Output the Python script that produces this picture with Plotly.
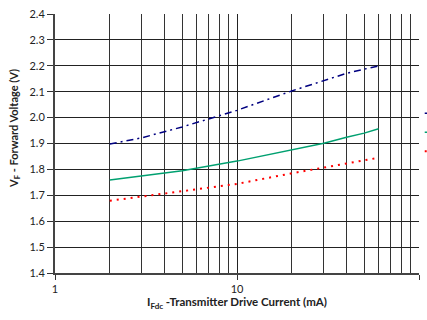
import plotly.graph_objects as go

current_ma = [2, 3, 5, 10, 20, 30, 40, 50, 60]
vf_cold = [1.898, 1.922, 1.964, 2.028, 2.103, 2.143, 2.171, 2.187, 2.199]
vf_room = [1.759, 1.774, 1.795, 1.832, 1.875, 1.901, 1.924, 1.940, 1.957]
vf_hot = [1.679, 1.695, 1.714, 1.744, 1.785, 1.808, 1.824, 1.835, 1.845]
series_names = ["-40°C", "25°C", "85°C"]

y_ticks = [1.4, 1.5, 1.6, 1.7, 1.8, 1.9, 2.0, 2.1, 2.2, 2.3, 2.4]
x_ticks = [1, 10, 100]
x_minor = [2, 3, 4, 5, 6, 7, 8, 9, 20, 30, 40, 50, 60, 70, 80, 90]

fig = go.Figure()
fig.add_trace(go.Scatter(x=current_ma, y=vf_cold, mode="lines", name=series_names[0],
                         line=dict(color="#000080", width=1.5, dash="7px,4px,2px,4px")))
fig.add_trace(go.Scatter(x=current_ma, y=vf_room, mode="lines", name=series_names[1],
                         line=dict(color="#00A070", width=1.5)))
fig.add_trace(go.Scatter(x=current_ma, y=vf_hot, mode="lines", name=series_names[2],
                         line=dict(color="#FF0000", width=2, dash="2px,5px")))

font_family = "Lato, 'Open Sans', sans-serif"
fig.update_layout(
    width=427, height=320,
    margin=dict(l=55, r=8, t=14, b=47, autoexpand=False),
    paper_bgcolor="white", plot_bgcolor="white",
    font=dict(family=font_family, size=11, color="#222"),
    showlegend=True,
    legend=dict(x=1.002, y=0.543, xanchor="left", yanchor="middle",
                font=dict(size=9.5), bgcolor="rgba(0,0,0,0)", tracegroupgap=0,
                itemwidth=30),
    xaxis=dict(type="log", range=[0, 2], tickvals=x_ticks, ticktext=["1", "10", "100"],
               showgrid=True, gridcolor="#222", gridwidth=1,
               minor=dict(tickvals=x_minor, showgrid=True, gridcolor="#333", gridwidth=1, ticks=""),
               ticks="outside", ticklen=5, tickcolor="#333",
               showline=True, linecolor="#444", linewidth=2, mirror=False,
               zeroline=False,
               title=dict(text="<b>I<sub>Fdc</sub> -Transmitter Drive Current (mA)</b>",
                          font=dict(size=11.5, color="#222"), standoff=2)),
    yaxis=dict(range=[1.4, 2.4], tickvals=y_ticks, tickformat=".1f",
               showgrid=True, gridcolor="#222", gridwidth=1,
               ticks="outside", ticklen=6, tickcolor="#333",
               showline=True, linecolor="#444", linewidth=2,
               zeroline=False),
    annotations=[dict(text="<b>V<sub>F</sub> - Forward Voltage (V)</b>",
                      xref="paper", yref="paper", x=-0.11, y=0.56,
                      xanchor="center", yanchor="middle", textangle=-90,
                      showarrow=False, font=dict(size=11, color="#222"))],
)

fig.write_html("out.html")
